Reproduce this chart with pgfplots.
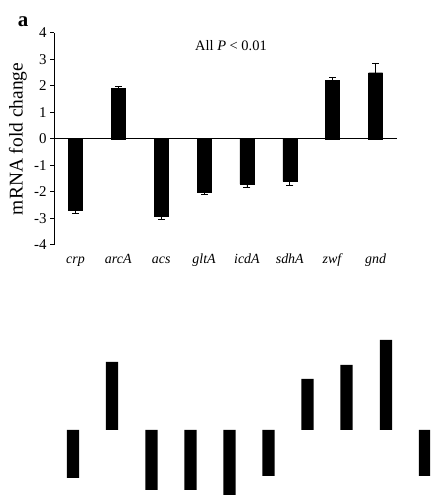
\documentclass[border=0pt]{standalone}
\usepackage{fontspec}
\setmainfont{Liberation Serif}
\usepackage{pgfplots}
\pgfplotsset{compat=1.18}
\begin{document}
\begin{tikzpicture}[x=1bp,y=1bp]
\useasboundingbox (0,0) rectangle (430,495);
% top panel
\begin{axis}[
  at={(54bp,250bp)}, anchor=south west,
  scale only axis, width=343bp, height=212bp,
  xmin=-0.5, xmax=7.5, ymin=-4, ymax=4,
  axis y line*=left, axis x line*=bottom,
  x axis line style={draw=none},
  y axis line style={line width=1pt, black, -},
  ytick={-4,-3,-2,-1,0,1,2,3,4},
  tick align=outside, major tick length=4bp,
  ytick style={line width=1pt, black},
  xtick={0,...,7},
  xticklabels={\textit{crp},\textit{arcA},\textit{acs},\textit{gltA},\textit{icdA},\textit{sdhA},\textit{zwf},\textit{gnd}},
  xticklabel style={font=\fontsize{14}{16}\selectfont, text height=10bp, text depth=3bp, anchor=north, yshift=-1bp},
  xtick style={draw=none},
  /pgf/number format/assume math mode=true,
  yticklabel style={font=\fontsize{15}{17}\selectfont},
  ylabel={mRNA fold change},
  ylabel style={font=\fontsize{19.5}{22}\selectfont, at={(axis description cs:-0.105,0.5)}, anchor=center},
  clip=false,
]
\draw[line width=1pt] (axis cs:-0.5,0) -- (axis cs:7.5,0);
\addplot[ybar, bar width=14bp, bar shift=0pt, fill=black, draw=black,
  error bars/.cd, y dir=minus, y explicit,
  error bar style={line width=0.8pt, black},
  error mark options={rotate=90, mark size=3.5bp, line width=0.8pt, black}]
  table[x=x, y=y, y error=e] {
x y e
0 -2.70 0.12
2 -2.90 0.12
3 -2.00 0.08
4 -1.70 0.12
5 -1.60 0.14
};
\addplot[ybar, bar width=14bp, bar shift=0pt, fill=black, draw=black,
  error bars/.cd, y dir=plus, y explicit,
  error bar style={line width=0.8pt, black},
  error mark options={rotate=90, mark size=3.5bp, line width=0.8pt, black}]
  table[x=x, y=y, y error=e] {
x y e
1 1.90 0.08
6 2.20 0.11
7 2.50 0.37
};
\node[font=\fontsize{14.5}{16}\selectfont] at (rel axis cs:0.516,0.939) {All \textit{P} < 0.01};
\end{axis}
\node[font=\bfseries\fontsize{21}{23}\selectfont] at (23,473) {a};
% bottom fragment
\begin{axis}[
  at={(0bp,0bp)}, anchor=south west,
  scale only axis, width=430bp, height=165bp,
  xmin=0, xmax=430, ymin=-65, ymax=100,
  hide axis, clip=true,
]
\addplot[ybar, bar width=12.3bp, bar shift=0pt, fill=black, draw=none]
  coordinates {(73,-48) (112,68) (151.5,-60) (190.5,-60) (229.5,-70) (268.5,-46) (307.5,51) (346.5,65) (386,90) (425,-46)};
\end{axis}
\end{tikzpicture}
\end{document}
